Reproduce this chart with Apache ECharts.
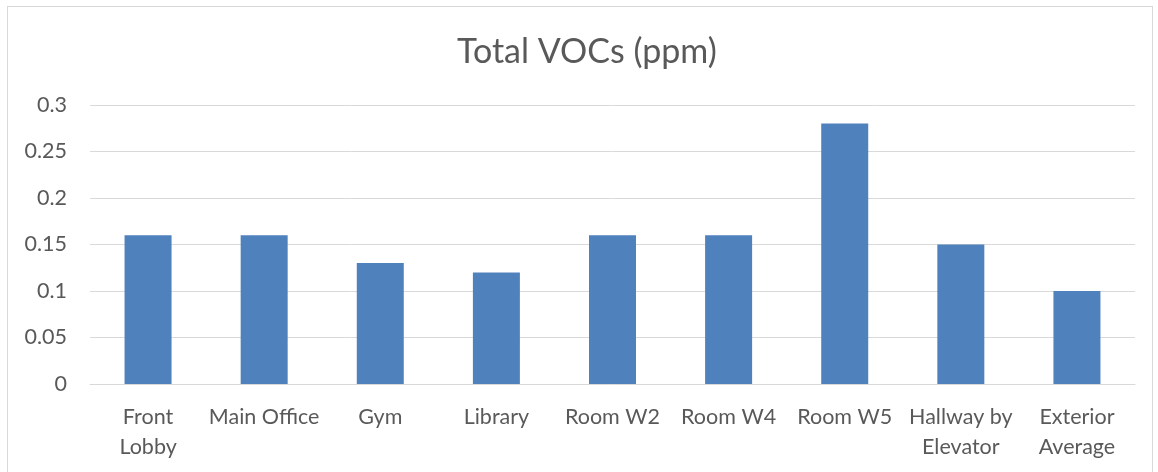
<!DOCTYPE html>
<html>
<head>
<meta charset="utf-8">
<script src="https://cdn.jsdelivr.net/npm/echarts@6/dist/echarts.min.js"></script>
<style>
  html, body { margin: 0; padding: 0; background: #fff; }
  #frame { position: absolute; left: 7px; top: 6px; width: 1146px; height: 470px; border: 1px solid #d9d9d9; box-sizing: border-box; }
  #main { position: absolute; left: 0; top: 0; width: 1158px; height: 472px; }
</style>
</head>
<body>
<div id="frame"></div>
<div id="main"></div>
<script>
var categories = ['Front\nLobby', 'Main Office', 'Gym', 'Library', 'Room W2', 'Room W4', 'Room W5', 'Hallway by\nElevator', 'Exterior\nAverage'];
var vocValues = [0.16, 0.16, 0.13, 0.12, 0.16, 0.16, 0.28, 0.15, 0.10];
var yTicks = { min: 0, max: 0.3, interval: 0.05 };

var myChart = echarts.init(document.getElementById('main'));
var font = 'Lato, "Open Sans", sans-serif';

var option = {
    animation: false,
    title: {
        text: 'Total VOCs (ppm)',
        left: 452,
        top: 30,
        textStyle: { fontFamily: font, fontSize: 34, fontWeight: 'normal', color: '#595959' }
    },
    grid: { left: 90, right: 23, top: 105, bottom: 88 },
    xAxis: {
        type: 'category',
        data: categories,
        axisLine: { lineStyle: { color: '#d9d9d9', width: 1 } },
        axisTick: { show: false },
        axisLabel: { fontFamily: font, fontSize: 21.5, color: '#595959', margin: 18, lineHeight: 30, interval: 0 }
    },
    yAxis: {
        type: 'value',
        min: yTicks.min,
        max: yTicks.max,
        interval: yTicks.interval,
        axisLine: { show: false },
        axisTick: { show: false },
        splitLine: { lineStyle: { color: '#d9d9d9', width: 1 } },
        axisLabel: {
            fontFamily: font, fontSize: 21.5, color: '#595959', margin: 23,
            formatter: function (v) { return String(Math.round(v * 100) / 100); }
        }
    },
    series: [{
        type: 'bar',
        data: vocValues,
        barWidth: 47,
        itemStyle: { color: '#4f81bd' }
    }]
};

myChart.setOption(option);
</script>
</body>
</html>
